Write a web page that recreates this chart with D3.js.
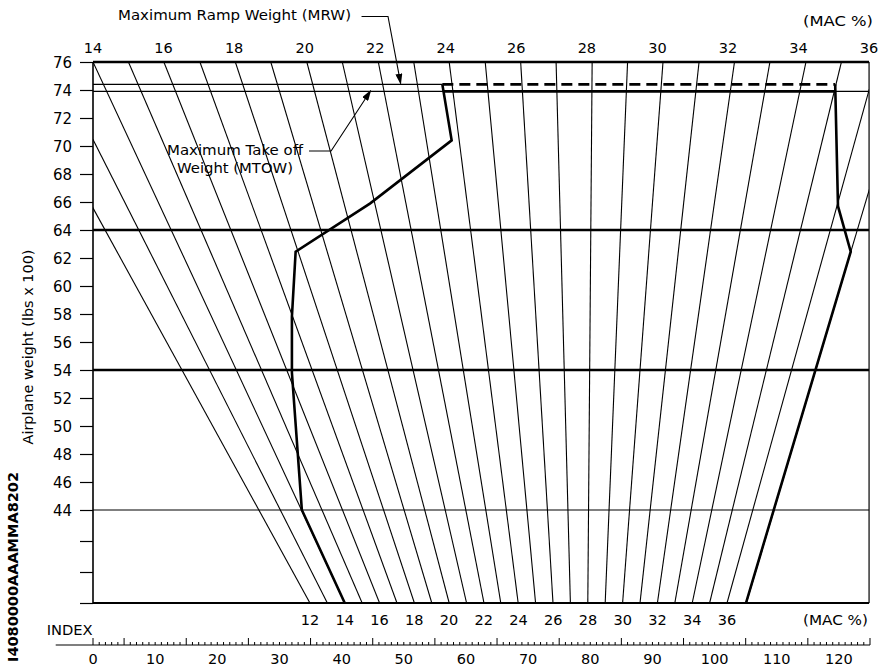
<!DOCTYPE html>
<html><head><meta charset="utf-8">
<script src="https://cdn.jsdelivr.net/npm/d3@7"></script>
<style>
body{margin:0;background:#fff}
svg{display:block}
text{font-family:"DejaVu Sans",sans-serif;fill:#000}
</style>
</head><body>
<svg id="c" width="885" height="666"></svg>
<script>
// ---------------- data ----------------
const macLineValues      = [12,13,14,15,16,17,18,19,20,21,22,23,24,25,26,27,28,29,30,31,32,33,34,35,36,37];
const macLineTopIndex    = [-12.9,-6.3,0.0,5.7,11.4,17.2,22.9,28.6,34.4,40.1,45.9,51.6,57.3,63.1,68.8,74.5,80.3,86.0,91.7,97.5,103.2,108.9,114.7,120.4,126.1,131.0];
const macLineBottomIndex = [34.9,37.7,40.5,43.3,46.1,48.9,51.7,54.5,57.3,60.1,62.9,65.6,68.4,71.2,74.0,76.8,79.6,82.4,85.2,88.0,90.8,93.6,96.4,99.2,102.0,105.1];

const topMacLabels    = [14,16,18,20,22,24,26,28,30,32,34,36];
const bottomMacLabels = [12,14,16,18,20,22,24,26,28,30,32,34,36];
const weightLabels    = [44,46,48,50,52,54,56,58,60,62,64,66,68,70,72,74,76];
const weightExtraTicks = [38,40,42];
const indexLabels     = [0,10,20,30,40,50,60,70,80,90,100,110,120];

const heavyWeights = [76,64,54];
const lightWeights = [44];
const MRW  = 74.4;
const MTOW = 73.9;
const mtowEnvIndex = [56.4, 119.4];
const mrwEnvIndex  = [56.2, 119.4];

const leftEnvIndex   = [56.2, 57.7, 44.6, 32.6, 32.0, 32.0, 33.6, 40.5];
const leftEnvWeight  = [74.4, 70.4, 65.9, 62.45, 57.8, 53.8, 44, 38];
const rightEnvIndex  = [119.4, 119.85, 121.9, 105.05];
const rightEnvWeight = [74.4, 65.7, 62.45, 38];

// callout anchor points in (index, weight)
const mrwCallout  = [[43.2,79.25],[47.46,79.25],[49.5,74.45]];
const mtowCallout = [[34.75,69.64],[38.3,69.64],[44.67,73.95]];

(function(){
// ---------------- scales ----------------
const svg = d3.select("#c");
const x = d3.scaleLinear().domain([0,125]).range([93,870]);
const y = d3.scaleLinear().domain([38,44,76]).range([603,510,62]);
const idxMax = 124.85;
const pL = x(0), pR = x(idxMax), pT = y(76), pB = y(38);
const topMac = d3.scaleLinear().domain([14,36]).range([pL, pR]);
const botMac = d3.scaleLinear().domain([12,36]).range([x(34.9), x(102.0)]);

svg.append("defs").html(`
  <clipPath id="plot"><rect x="${pL}" y="${pT}" width="${pR-pL}" height="${pB-pT}"/></clipPath>
  <marker id="arr" markerUnits="userSpaceOnUse" markerWidth="11" markerHeight="7" refX="10" refY="3.5" orient="auto">
    <path d="M0,0 L11,3.5 L0,7 z" fill="#000"/>
  </marker>`);

const line = d3.line().x(d=>x(d[0])).y(d=>y(d[1]));

// MAC lines
const gL = svg.append("g").attr("clip-path","url(#plot)");
macLineValues.forEach((m,i)=>{
  gL.append("path")
    .attr("d", line([[macLineTopIndex[i],76],[macLineBottomIndex[i],38]]))
    .attr("stroke","#000").attr("stroke-width",1.1).attr("fill","none");
});

// horizontal lines
heavyWeights.forEach(w=>{
  svg.append("line").attr("x1",pL).attr("x2",pR).attr("y1",y(w)).attr("y2",y(w))
    .attr("stroke","#000").attr("stroke-width",2.6);
});
lightWeights.forEach(w=>{
  svg.append("line").attr("x1",pL).attr("x2",pR).attr("y1",y(w)).attr("y2",y(w))
    .attr("stroke","#000").attr("stroke-width",1.1);
});
svg.append("line").attr("x1",pL).attr("x2",pR).attr("y1",pB).attr("y2",pB)
  .attr("stroke","#000").attr("stroke-width",2);
svg.append("line").attr("x1",pL).attr("x2",x(mrwEnvIndex[0])).attr("y1",y(MRW)).attr("y2",y(MRW))
  .attr("stroke","#000").attr("stroke-width",1.1);
svg.append("line").attr("x1",pL).attr("x2",pR).attr("y1",y(MTOW)).attr("y2",y(MTOW))
  .attr("stroke","#000").attr("stroke-width",1.1);
svg.append("line").attr("x1",pL).attr("x2",pL).attr("y1",pT).attr("y2",pB).attr("stroke","#000").attr("stroke-width",1.6);
svg.append("line").attr("x1",pR).attr("x2",pR).attr("y1",pT).attr("y2",pB).attr("stroke","#000").attr("stroke-width",1.2);

// envelope
const env = svg.append("g").attr("fill","none").attr("stroke","#000").attr("stroke-width",2.6).attr("stroke-linejoin","miter");
env.append("path").attr("d", line(leftEnvIndex.map((v,i)=>[v,leftEnvWeight[i]])));
env.append("path").attr("d", line(rightEnvIndex.map((v,i)=>[v,rightEnvWeight[i]])));
env.append("path").attr("d", line([[mtowEnvIndex[0],MTOW],[mtowEnvIndex[1],MTOW]]));
env.append("path").attr("d", line([[mrwEnvIndex[0],MRW],[mrwEnvIndex[1],MRW]])).attr("stroke-dasharray","11,6");

// y axis
const yAxis = d3.axisLeft(y).tickValues(weightLabels.concat(weightExtraTicks)).tickSize(13).tickPadding(8)
  .tickFormat(d=> weightLabels.includes(d) ? d : "");
const ga = svg.append("g").attr("transform",`translate(${pL},0)`).call(yAxis);
ga.select(".domain").remove();
ga.selectAll(".tick line").attr("stroke","#000").attr("stroke-width",1.2);
ga.selectAll(".tick text").attr("font-size",15).attr("font-family","DejaVu Sans").attr("dy","0.34em").attr("fill","#000");

// top MAC labels
svg.append("g").selectAll("text").data(topMacLabels).join("text")
  .attr("x",d=>topMac(d)).attr("y",53).attr("text-anchor","middle").attr("font-size",14.5).text(d=>d);
// bottom MAC labels
svg.append("g").selectAll("text").data(bottomMacLabels).join("text")
  .attr("x",d=>botMac(d)).attr("y",625).attr("text-anchor","middle").attr("font-size",14.5).text(d=>d);

// index axis
const axY = 645;
svg.append("line").attr("x1",x(-6)).attr("x2",x(125)).attr("y1",axY).attr("y2",axY).attr("stroke","#000").attr("stroke-width",1.2);
svg.append("g").selectAll("line").data(d3.range(0,126)).join("line")
  .attr("x1",d=>x(d)).attr("x2",d=>x(d)).attr("y1",axY)
  .attr("y2",d=> axY - ((d===0 || d%10===5) ? 7 : 3))
  .attr("stroke","#000").attr("stroke-width",1);
svg.append("g").selectAll("text").data(indexLabels).join("text")
  .attr("x",d=>x(d)).attr("y",664).attr("text-anchor","middle").attr("font-size",14.5).text(d=>d);

// texts
svg.append("text").attr("x",46.7).attr("y",635).attr("font-size",14).attr("textLength",46).attr("lengthAdjust","spacingAndGlyphs").text("INDEX");
svg.append("text").attr("x",803).attr("y",625).attr("font-size",14).attr("textLength",65).attr("lengthAdjust","spacingAndGlyphs").text("(MAC %)");
svg.append("text").attr("x",803).attr("y",26).attr("font-size",14).attr("textLength",70).attr("lengthAdjust","spacingAndGlyphs").text("(MAC %)");
svg.append("text").attr("x",118).attr("y",20).attr("font-size",14).attr("textLength",233).attr("lengthAdjust","spacingAndGlyphs").text("Maximum Ramp Weight (MRW)");
svg.append("text").attr("x",167).attr("y",155).attr("font-size",14).attr("textLength",136).attr("lengthAdjust","spacingAndGlyphs").text("Maximum Take off");
svg.append("text").attr("x",177).attr("y",173).attr("font-size",14).attr("textLength",116).attr("lengthAdjust","spacingAndGlyphs").text("Weight (MTOW)");
svg.append("text").attr("transform","translate(33,347) rotate(-90)").attr("text-anchor","middle")
  .attr("font-size",13.5).attr("textLength",195).attr("lengthAdjust","spacingAndGlyphs").attr("fill","#222").text("Airplane weight (lbs x 100)");
svg.append("text").attr("transform","translate(18,567) rotate(-90)").attr("text-anchor","middle")
  .attr("font-size",14).attr("font-weight","bold").attr("textLength",190).attr("lengthAdjust","spacingAndGlyphs").text("I4080000AAAMMA8202");

// callouts
[mrwCallout, mtowCallout].forEach(c=>{
  svg.append("path").attr("d",line(c)).attr("fill","none").attr("stroke","#000").attr("stroke-width",1.1).attr("marker-end","url(#arr)");
});
})();
</script>
</body></html>
